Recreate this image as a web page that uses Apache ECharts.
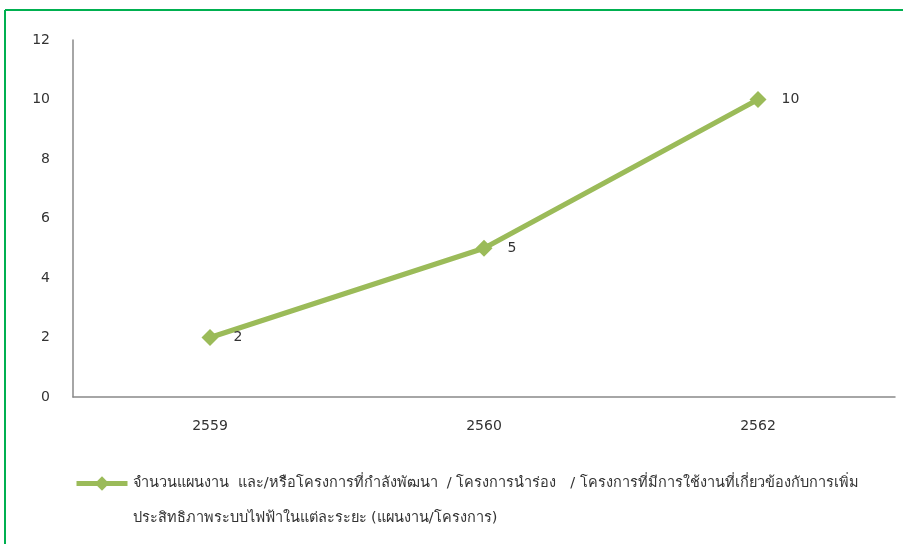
<!DOCTYPE html>
<html>
<head>
<meta charset="utf-8">
<script src="https://cdn.jsdelivr.net/npm/echarts@6/dist/echarts.min.js"></script>
<style>
  html, body { margin: 0; padding: 0; background: #fff; }
  #chart { width: 903px; height: 544px; }
</style>
</head>
<body>
<div id="chart"></div>
<script>
// Fiscal years (Buddhist Era)
const years = ['2559', '2560', '2562'];
// Number of plans / projects in each period
const projectCounts = [2, 5, 10];
// Y axis range
const yMin = 0;
const yMax = 12;
const yStep = 2;
const seriesName = 'จำนวนแผนงาน  และ/หรือโครงการที่กำลังพัฒนา  / โครงการนำร่อง   / โครงการที่มีการใช้งานที่เกี่ยวข้องกับการเพิ่มประสิทธิภาพระบบไฟฟ้าในแต่ละระยะ (แผนงาน/โครงการ)';

const FONT = 'Tahoma, "DejaVu Sans", "Noto Sans", sans-serif';
const lineColor = '#9BBB59';
const textColor = '#333333';
const axisColor = '#898989';

// Legend text: wrap after "การเพิ่ม"; a blank first line keeps the
// symbol level with the first text line (legend text is centred on the symbol).
function legendText(name) {
  const cut = name.indexOf('ประสิทธิภาพ');
  return ' \n' + name.slice(0, cut) + '\n' + name.slice(cut);
}

const chart = echarts.init(document.getElementById('chart'), null, { renderer: 'canvas' });
chart.setOption({
  animation: false,
  backgroundColor: '#ffffff',
  textStyle: { fontFamily: FONT },
  graphic: [
    // green frame along the top and left edges
    { type: 'line', shape: { x1: 5, y1: 10, x2: 903, y2: 10 }, style: { stroke: '#00B050', lineWidth: 2 } },
    { type: 'line', shape: { x1: 5, y1: 10, x2: 5, y2: 544 }, style: { stroke: '#00B050', lineWidth: 2 } }
  ],
  grid: { left: 73, right: 8, top: 40, bottom: 147 },
  legend: {
    left: 74,
    top: 431,
    padding: 0,
    itemWidth: 51,
    itemHeight: 18,
    itemGap: 5,
    data: [seriesName],
    formatter: legendText,
    lineStyle: { width: 5, color: lineColor },
    itemStyle: { color: lineColor },
    textStyle: {
      fontFamily: FONT,
      fontSize: 14.5,
      color: textColor,
      lineHeight: 35
    }
  },
  xAxis: {
    type: 'category',
    data: years,
    boundaryGap: true,
    axisLine: { show: true, lineStyle: { color: axisColor, width: 1.5 } },
    axisTick: { show: false },
    splitLine: { show: false },
    axisLabel: { color: textColor, fontSize: 14, fontFamily: FONT, margin: 22 }
  },
  yAxis: {
    type: 'value',
    min: yMin,
    max: yMax,
    interval: yStep,
    axisLine: { show: true, lineStyle: { color: axisColor, width: 1.5 } },
    axisTick: { show: false },
    splitLine: { show: false },
    axisLabel: { color: textColor, fontSize: 14, fontFamily: FONT, margin: 23 }
  },
  series: [{
    name: seriesName,
    type: 'line',
    data: projectCounts,
    symbol: 'diamond',
    symbolSize: 17,
    showAllSymbol: true,
    lineStyle: { color: lineColor, width: 5 },
    itemStyle: { color: lineColor },
    label: {
      show: true,
      position: 'right',
      distance: 15,
      color: textColor,
      fontSize: 14,
      fontFamily: FONT
    }
  }]
});
</script>
</body>
</html>
